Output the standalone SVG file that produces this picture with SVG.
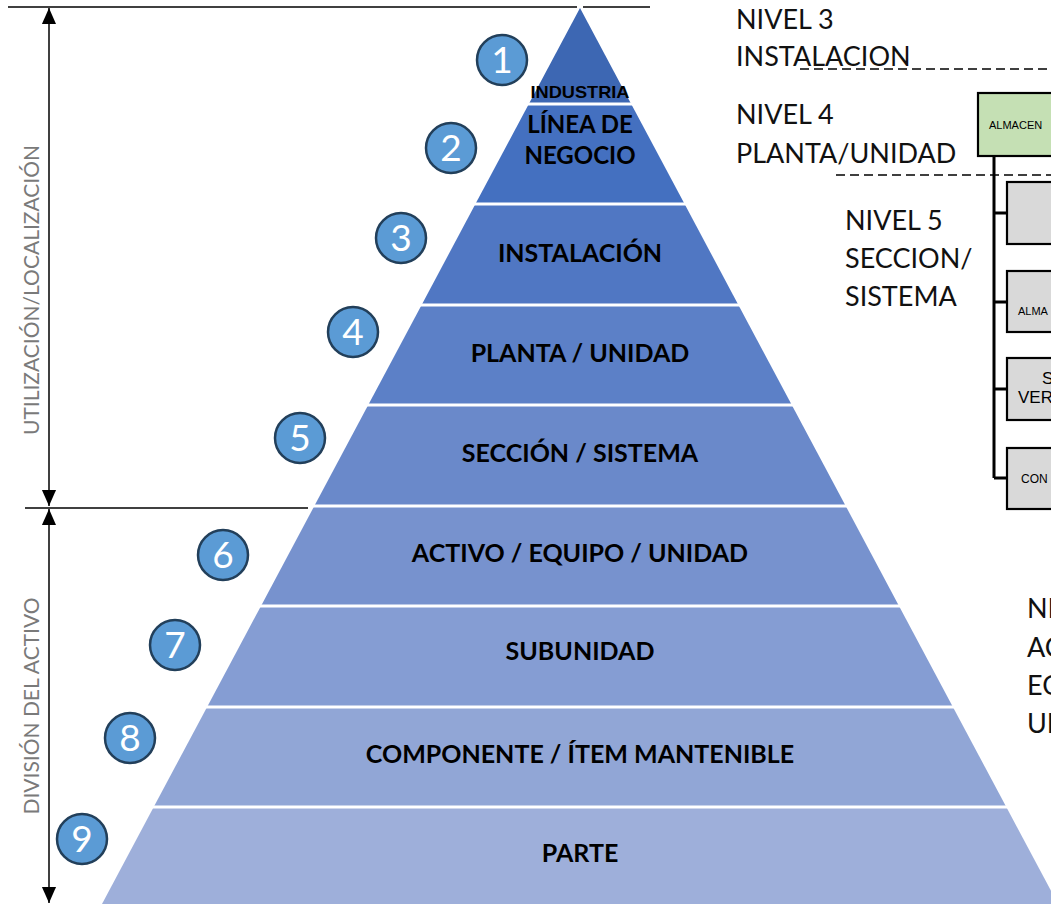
<svg xmlns="http://www.w3.org/2000/svg" width="1051" height="904" viewBox="0 0 1051 904">
<defs>
<style>
.band-t{font-family:Lato,"Liberation Sans",sans-serif;font-weight:bold;font-size:25px;fill:#000;text-anchor:middle}
.num{font-family:Lato,"Liberation Sans",sans-serif;font-size:37px;fill:#fff;text-anchor:middle}
.circ{fill:#5B9BD5;stroke:#223F5A;stroke-width:2.5}
.lvl{font-family:Lato,"Liberation Sans",sans-serif;font-size:27px;fill:#111}
.side{font-family:Lato,"Liberation Sans",sans-serif;font-size:21px;fill:#7a7a7a;text-anchor:middle}
.gap{stroke:#fff;stroke-width:3}
.ln{stroke:#000;stroke-width:1.5;fill:none}
.dash{stroke:#000;stroke-width:1.3;stroke-dasharray:9,5;fill:none}
.box{stroke:#000;stroke-width:2.2}
.bt{font-family:"Liberation Sans",Arial,sans-serif;fill:#000}
</style>
<marker id="ahb" viewBox="0 0 10 10" refX="10" refY="5" markerWidth="16" markerHeight="16" markerUnits="userSpaceOnUse" orient="auto-start-reverse">
<path d="M0,0.6 L10,5 L0,9.4 z" fill="#000"/>
</marker>
</defs>

<g id="connectors">
<line class="ln" x1="8" y1="7" x2="577" y2="7"/>
<line class="ln" x1="583" y1="7" x2="650" y2="7"/>
<line class="ln" x1="49" y1="8" x2="49" y2="506" marker-start="url(#ahb)" marker-end="url(#ahb)"/>
<line class="ln" x1="25" y1="508" x2="308" y2="508"/>
<line class="ln" x1="49" y1="509" x2="49" y2="903" marker-start="url(#ahb)" marker-end="url(#ahb)"/>
<line class="dash" x1="800" y1="69" x2="1051" y2="69"/>
<line class="dash" x1="836" y1="175" x2="1051" y2="175"/>
<path d="M994,156 V478 M994,213 H1007 M994,302 H1007 M994,389 H1007 M994,478 H1007" stroke="#000" stroke-width="3" fill="none"/>
</g>

<g id="pyramid">
<polygon points="580,8 631.2,104 528.8,104" fill="#3D67B3"/>
<polygon points="528.8,104 631.2,104 684.6,204 475.4,204" fill="#4470C0"/>
<polygon points="475.4,204 684.6,204 738.4,305 421.6,305" fill="#5077C3"/>
<polygon points="421.6,305 738.4,305 791.8,405 368.2,405" fill="#5C80C7"/>
<polygon points="368.2,405 791.8,405 845.7,506 314.3,506" fill="#6A89CA"/>
<polygon points="314.3,506 845.7,506 899,606 261,606" fill="#7792CE"/>
<polygon points="261,606 899,606 952.9,707 207.1,707" fill="#859DD3"/>
<polygon points="207.1,707 952.9,707 1006.3,807 153.7,807" fill="#91A6D6"/>
<polygon points="153.7,807 1006.3,807 1061.2,910 98.8,910" fill="#9EAFDA"/>
<path class="gap" d="M527,104 H633 M473,204 H687 M419,305 H741 M366,405 H794 M312,506 H848 M258,606 H902 M204,707 H956 M151,807 H1009"/>
</g>

<g id="band-labels">
<text x="580" y="98" class="band-t" style="font-size:17px;font-family:'Liberation Sans',Arial,sans-serif" textLength="99" lengthAdjust="spacingAndGlyphs">INDUSTRIA</text>
<text x="580" y="133" class="band-t" style="font-size:24px">LÍNEA DE</text>
<text x="580" y="164" class="band-t" style="font-size:24px">NEGOCIO</text>
<text x="580" y="262" class="band-t">INSTALACIÓN</text>
<text x="580" y="362" class="band-t">PLANTA / UNIDAD</text>
<text x="580" y="462" class="band-t">SECCIÓN / SISTEMA</text>
<text x="580" y="562" class="band-t">ACTIVO / EQUIPO / UNIDAD</text>
<text x="580" y="660" class="band-t">SUBUNIDAD</text>
<text x="580" y="763" class="band-t">COMPONENTE / ÍTEM MANTENIBLE</text>
<text x="580" y="862" class="band-t">PARTE</text>
</g>

<g id="n1"><circle class="circ" cx="502" cy="60" r="25"/><text class="num" x="502" y="73">1</text></g>
<g id="n2"><circle class="circ" cx="451" cy="148" r="25"/><text class="num" x="451" y="161">2</text></g>
<g id="n3"><circle class="circ" cx="401" cy="238" r="25"/><text class="num" x="401" y="251">3</text></g>
<g id="n4"><circle class="circ" cx="353" cy="332" r="25"/><text class="num" x="353" y="345">4</text></g>
<g id="n5"><circle class="circ" cx="300" cy="438" r="25"/><text class="num" x="300" y="451">5</text></g>
<g id="n6"><circle class="circ" cx="223" cy="555" r="25"/><text class="num" x="223" y="568">6</text></g>
<g id="n7"><circle class="circ" cx="175" cy="645" r="25"/><text class="num" x="175" y="658">7</text></g>
<g id="n8"><circle class="circ" cx="130" cy="738" r="25"/><text class="num" x="130" y="751">8</text></g>
<g id="n9"><circle class="circ" cx="82" cy="839" r="25"/><text class="num" x="82" y="852">9</text></g>

<g id="side-labels">
<text class="side" transform="translate(39,290) rotate(-90)">UTILIZACIÓN/LOCALIZACIÓN</text>
<text class="side" transform="translate(39,706) rotate(-90)">DIVISIÓN DEL ACTIVO</text>
</g>

<g id="level-labels">
<text class="lvl" x="736" y="29">NIVEL 3</text>
<text class="lvl" x="736" y="66">INSTALACION</text>
<text class="lvl" x="736" y="124">NIVEL 4</text>
<text class="lvl" x="736" y="163">PLANTA/UNIDAD</text>
<text class="lvl" x="845" y="230">NIVEL 5</text>
<text class="lvl" x="845" y="268">SECCION/</text>
<text class="lvl" x="845" y="306">SISTEMA</text>
<text class="lvl" x="1027" y="618">NIVEL 6</text>
<text class="lvl" x="1027" y="657">ACTIVO/</text>
<text class="lvl" x="1027" y="695">EQUIPO/</text>
<text class="lvl" x="1027" y="733">UNIDAD</text>
</g>

<g id="box-plant"><rect class="box" x="978" y="93" width="90" height="63" fill="#C5E0B4"/><text class="bt" x="989" y="129" font-size="11" font-family="Lato,sans-serif">ALMACEN</text></g>
<g id="box-1"><rect class="box" x="1007" y="182" width="60" height="62" fill="#D9D9D9"/></g>
<g id="box-2"><rect class="box" x="1007" y="271" width="60" height="61" fill="#D9D9D9"/><text class="bt" x="1018" y="315" font-size="11">ALMA</text></g>
<g id="box-3"><rect class="box" x="1007" y="358" width="60" height="62" fill="#D9D9D9"/><text class="bt" x="1042" y="384" font-size="17">S</text><text class="bt" x="1018" y="403" font-size="17">VER</text></g>
<g id="box-4"><rect class="box" x="1007" y="448" width="60" height="61" fill="#D9D9D9"/><text class="bt" x="1021" y="483" font-size="12">CON</text></g>
</svg>
